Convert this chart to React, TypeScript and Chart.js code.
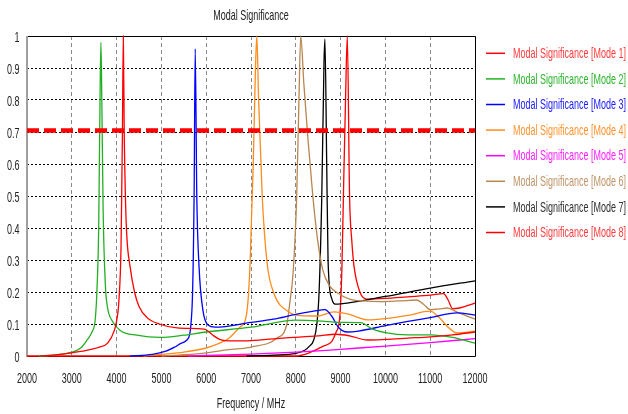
import { useEffect, useRef } from 'react';
import { Chart, registerables } from 'chart.js';

Chart.register(...registerables);

// ---------- data ----------
const seriesNames = [
  'Modal Significance [Mode 1]',
  'Modal Significance [Mode 2]',
  'Modal Significance [Mode 3]',
  'Modal Significance [Mode 4]',
  'Modal Significance [Mode 5]',
  'Modal Significance [Mode 6]',
  'Modal Significance [Mode 7]',
  'Modal Significance [Mode 8]',
];

const mode1Freq = [2300, 2700, 3000, 3300, 3600, 3800, 3950, 4000, 4050, 4100, 4130, 4150, 4170, 4200, 4230, 4300, 4400, 4500, 4680, 4950, 5350, 5950, 6000, 6150, 6300, 6600, 7000, 7700, 8500, 8900, 9200, 9600, 10000, 10500, 11000, 11500, 12000];
const mode1Sig = [0, 0.004, 0.01, 0.017, 0.027, 0.04, 0.08, 0.11, 0.17, 0.35, 0.7, 1.0, 0.7, 0.48, 0.37, 0.28, 0.2, 0.155, 0.12, 0.1, 0.088, 0.084, 0.082, 0.065, 0.052, 0.047, 0.048, 0.056, 0.063, 0.068, 0.063, 0.05, 0.052, 0.056, 0.06, 0.066, 0.075];

const mode2Freq = [2270, 2600, 3000, 3200, 3340, 3450, 3520, 3560, 3600, 3630, 3650, 3670, 3700, 3750, 3800, 3900, 4080, 4450, 4970, 5500, 6000, 7000, 8000, 8500, 9000, 9450, 9700, 10000, 10500, 11000, 11500, 12000];
const mode2Sig = [0, 0.003, 0.012, 0.025, 0.05, 0.075, 0.11, 0.2, 0.4, 0.8, 0.98, 0.8, 0.45, 0.22, 0.15, 0.11, 0.08, 0.065, 0.058, 0.065, 0.075, 0.09, 0.112, 0.11, 0.105, 0.104, 0.085, 0.073, 0.066, 0.066, 0.058, 0.04];

const mode3Freq = [4300, 4800, 5100, 5300, 5450, 5570, 5680, 5730, 5755, 5790, 5840, 5930, 6040, 6200, 7000, 7500, 8000, 8400, 8650, 8800, 8950, 9150, 9400, 10000, 10500, 11000, 11600, 12000];
const mode3Sig = [0, 0.005, 0.015, 0.028, 0.04, 0.05, 0.14, 0.5, 0.96, 0.5, 0.28, 0.14, 0.097, 0.09, 0.105, 0.115, 0.13, 0.14, 0.145, 0.125, 0.09, 0.075, 0.078, 0.095, 0.108, 0.12, 0.135, 0.128];

const mode4Freq = [4600, 5000, 5500, 6000, 6300, 6500, 6750, 6900, 6980, 7050, 7100, 7130, 7170, 7250, 7360, 7500, 7870, 8000, 8500, 8850, 9200, 9400, 9600, 10000, 10500, 11000, 11200, 11400, 11600, 12000];
const mode4Sig = [0, 0.005, 0.012, 0.025, 0.04, 0.055, 0.09, 0.13, 0.29, 0.6, 0.9, 1.0, 0.8, 0.5, 0.29, 0.2, 0.135, 0.128, 0.125, 0.138, 0.13, 0.12, 0.113, 0.117, 0.127, 0.14, 0.12, 0.09, 0.072, 0.078];

const mode5Freq = [5600, 6000, 7000, 8000, 8500, 9000, 10000, 11000, 12000];
const mode5Sig = [0, 0.002, 0.006, 0.012, 0.016, 0.021, 0.031, 0.042, 0.054];

const mode6Freq = [5000, 5500, 6000, 6500, 7000, 7580, 7800, 7870, 7940, 8020, 8070, 8110, 8180, 8270, 8380, 8480, 8600, 8750, 8900, 9200, 9500, 9900, 10300, 10700, 10850, 11000, 11200, 11380, 11600, 12000];
const mode6Sig = [0, 0.004, 0.01, 0.02, 0.028, 0.056, 0.1, 0.17, 0.26, 0.5, 0.8, 1.0, 0.85, 0.68, 0.5, 0.37, 0.27, 0.22, 0.2, 0.178, 0.172, 0.17, 0.172, 0.175, 0.162, 0.145, 0.147, 0.15, 0.137, 0.115];

const mode7Freq = [6900, 7500, 8000, 8200, 8300, 8400, 8470, 8520, 8580, 8630, 8650, 8690, 8720, 8800, 8900, 9000, 10000, 11000, 12000];
const mode7Sig = [0, 0.003, 0.008, 0.018, 0.03, 0.05, 0.1, 0.2, 0.5, 0.92, 0.99, 0.6, 0.3, 0.18, 0.162, 0.163, 0.186, 0.212, 0.235];

const mode8Freq = [2000, 8000, 8300, 8600, 8800, 8900, 8980, 9030, 9070, 9110, 9150, 9200, 9250, 9300, 9430, 9590, 10000, 10500, 11000, 11300, 11400, 11500, 11650, 12000];
const mode8Sig = [0, 0, 0.01, 0.03, 0.045, 0.075, 0.12, 0.28, 0.55, 0.8, 1.0, 0.5, 0.36, 0.28, 0.2, 0.178, 0.18, 0.185, 0.19, 0.195, 0.175, 0.148, 0.15, 0.165];

const thresholdFreq = [2000, 12000];
const thresholdSig = [0.705, 0.705];

const xMin = 2000;
const xMax = 12000;
const xStep = 1000;
const yMin = 0;
const yMax = 1;
const yStep = 0.1;

// ---------- styles ----------
const seriesColors = ['#ff0000', '#22b022', '#0000ff', '#ff8c1a', '#ff00ff', '#b8864e', '#000000', '#ff0000'];
const legendTextColors = ['#ff3b3b', '#2db52d', '#2020ff', '#ff9430', '#ff20ff', '#c09468', '#303030', '#ff3b3b'];

const FONT = '"Liberation Sans", Arial, sans-serif';
const SX = 0.6;

function drawText(ctx: CanvasRenderingContext2D, text: string, x: number, y: number, align: string, color: string, size = 15) {
  ctx.save();
  ctx.font = `${size}px ${FONT}`;
  ctx.fillStyle = color;
  ctx.textBaseline = 'alphabetic';
  ctx.textAlign = 'left';
  const w = ctx.measureText(text).width * SX;
  const left = align === 'left' ? x : align === 'right' ? x - w : x - w / 2;
  ctx.translate(left, y);
  ctx.scale(SX, 1);
  ctx.fillText(text, 0, 0);
  ctx.restore();
}

function zip(fs: number[], vs: number[]) {
  return fs.map((f, i) => ({ x: f, y: vs[i] }));
}

const decorPlugin = {
  id: 'decor',
  beforeDatasetsDraw(chart: any) {
    const { ctx, chartArea: a } = chart;
    ctx.save();
    // frame
    ctx.strokeStyle = '#000';
    ctx.lineWidth = 1;
    ctx.beginPath();
    ctx.moveTo(a.left, a.top + 0.5);
    ctx.lineTo(a.right + 0.5, a.top + 0.5);
    ctx.lineTo(a.right + 0.5, a.bottom + 0.5);
    ctx.lineTo(a.left, a.bottom + 0.5);
    ctx.stroke();
    ctx.strokeStyle = '#a0a0a0';
    ctx.lineWidth = 2;
    ctx.beginPath();
    ctx.moveTo(a.left, a.top);
    ctx.lineTo(a.left, a.bottom + 1);
    ctx.stroke();
    ctx.restore();
  },
  afterDraw(chart: any) {
    const { ctx, chartArea: a } = chart;
    const xs = chart.scales.x;
    const ys = chart.scales.y;
    xs.ticks.forEach((t: any) => {
      drawText(ctx, String(t.value), xs.getPixelForValue(t.value), 382.5, 'center', '#222');
    });
    ys.ticks.forEach((t: any) => {
      const label = String(Number(t.value.toFixed(1)));
      drawText(ctx, label, 19.5, ys.getPixelForValue(t.value) + 5.5, 'right', '#222');
    });
    const cx = (a.left + a.right) / 2;
    drawText(ctx, 'Modal Significance', cx, 19.5, 'center', '#222');
    drawText(ctx, 'Frequency / MHz', cx, 408, 'center', '#222');
    // legend
    seriesNames.forEach((name, i) => {
      const ly = 53.3 + 25.6 * i;
      ctx.save();
      ctx.strokeStyle = seriesColors[i];
      ctx.lineWidth = 1.5;
      ctx.beginPath();
      ctx.moveTo(486, ly);
      ctx.lineTo(505, ly);
      ctx.stroke();
      ctx.restore();
      drawText(ctx, name, 513, ly + 4.7, 'left', legendTextColors[i]);
    });
  },
};

export default function App() {
  const ref = useRef<HTMLCanvasElement>(null);
  useEffect(() => {
    if (!ref.current) return;
    const modes = [
      zip(mode1Freq, mode1Sig),
      zip(mode2Freq, mode2Sig),
      zip(mode3Freq, mode3Sig),
      zip(mode4Freq, mode4Sig),
      zip(mode5Freq, mode5Sig),
      zip(mode6Freq, mode6Sig),
      zip(mode7Freq, mode7Sig),
      zip(mode8Freq, mode8Sig),
    ];
    const datasets: any[] = [
      {
        label: 'threshold',
        data: zip(thresholdFreq, thresholdSig),
        borderColor: '#ff0000',
        borderWidth: 4.5,
        borderDash: [12, 5],
        pointRadius: 0,
        clip: 4,
      },
      ...modes.map((d, i) => ({
        label: seriesNames[i],
        data: d,
        borderColor: seriesColors[i],
        borderWidth: 1.3,
        pointRadius: 0,
        cubicInterpolationMode: 'monotone',
        clip: 2,
      })),
    ];
    const chart = new Chart(ref.current, {
      type: 'line',
      data: { datasets },
      options: {
        animation: false,
        responsive: false,
        maintainAspectRatio: false,
        layout: { padding: { left: 0, right: 153, top: 36, bottom: 0 } },
        plugins: { legend: { display: false }, tooltip: { enabled: false }, title: { display: false } },
        scales: {
          x: {
            type: 'linear',
            min: xMin,
            max: xMax,
            ticks: { stepSize: xStep, display: false },
            grid: { color: '#8a8a8a', lineWidth: 1, drawTicks: false },
            border: { display: false, dash: [4, 3] },
            afterFit: (s: any) => { s.height = 58; },
          },
          y: {
            type: 'linear',
            min: yMin,
            max: yMax,
            ticks: { stepSize: yStep, display: false },
            grid: { color: '#000000', lineWidth: 1, drawTicks: false },
            border: { display: false, dash: [2, 2] },
            afterFit: (s: any) => { s.width = 27; },
          },
        },
      } as any,
      plugins: [decorPlugin],
    });
    return () => chart.destroy();
  }, []);
  return (
    <div style={{ position: 'absolute', left: 0, top: 0, width: 628, height: 414, background: '#fff' }}>
      <canvas ref={ref} width={628} height={414} style={{ display: 'block' }} />
    </div>
  );
}
